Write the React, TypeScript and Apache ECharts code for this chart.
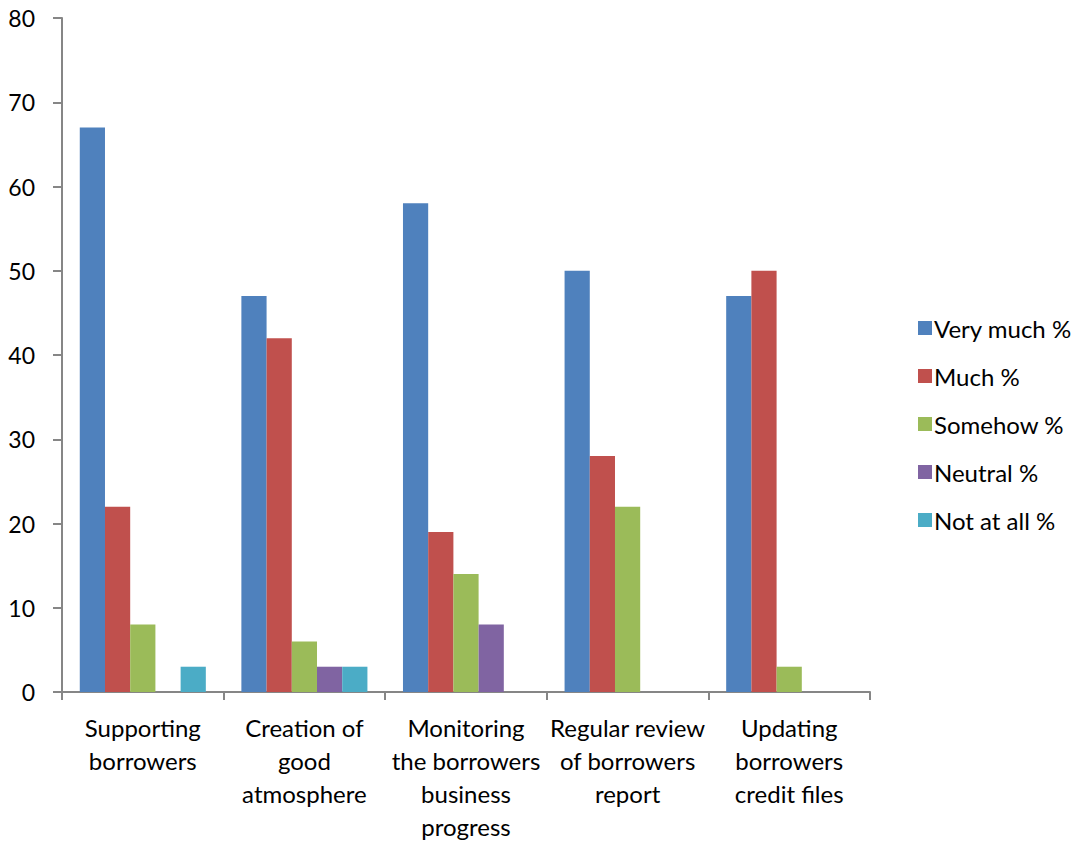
import React, { useEffect, useRef } from "react";
import * as echarts from "echarts";

const categories = [
  "Supporting\nborrowers",
  "Creation of\ngood\natmosphere",
  "Monitoring\nthe borrowers\nbusiness\nprogress",
  "Regular review\nof borrowers\nreport",
  "Updating\nborrowers\ncredit files",
];

const seriesNames = ["Very much %", "Much %", "Somehow %", "Neutral %", "Not at all %"];
const veryMuch = [67, 47, 58, 50, 47];
const much = [22, 42, 19, 28, 50];
const somehow = [8, 6, 14, 22, 3];
const neutral = [0, 3, 8, 0, 0];
const notAtAll = [3, 3, 0, 0, 0];
const colors = ["#4F81BD", "#C0504D", "#9BBB59", "#8064A2", "#4BACC6"];

const yTicks = { min: 0, max: 80, interval: 10 };

const FONT = "Lato, 'Open Sans', sans-serif";

export default function App() {
  const ref = useRef<HTMLDivElement>(null);

  useEffect(() => {
    if (!ref.current) return;
    const chart = echarts.init(ref.current, null, { renderer: "svg" });
    const values = [veryMuch, much, somehow, neutral, notAtAll];
    chart.setOption({
      animation: false,
      backgroundColor: "#ffffff",
      grid: { left: 62, right: 212, top: 18, bottom: 139 },
      legend: {
        orient: "vertical",
        left: 913,
        top: 309,
        itemWidth: 14,
        itemHeight: 14,
        itemGap: 20,
        icon: "rect",
        textStyle: {
          fontFamily: FONT,
          fontSize: 24,
          color: "#000",
          lineHeight: 28,
          padding: [0, 0, 0, -3],
        },
        data: seriesNames,
      },
      xAxis: {
        type: "category",
        data: categories,
        axisLine: { lineStyle: { color: "#868686", width: 2 } },
        axisTick: { show: true, length: 8, lineStyle: { color: "#868686", width: 2 } },
        axisLabel: {
          interval: 0,
          margin: 19,
          fontFamily: FONT,
          fontSize: 24,
          lineHeight: 33,
          color: "#000",
          align: "center",
        },
        splitLine: { show: false },
      },
      yAxis: {
        type: "value",
        min: yTicks.min,
        max: yTicks.max,
        interval: yTicks.interval,
        axisLine: { show: true, lineStyle: { color: "#868686", width: 2 } },
        axisTick: { show: true, length: 9, lineStyle: { color: "#868686", width: 2 } },
        axisLabel: {
          margin: 27,
          fontFamily: FONT,
          fontSize: 23,
          color: "#000",
        },
        splitLine: { show: false },
      },
      series: seriesNames.map((name, i) => ({
        name,
        type: "bar",
        data: values[i],
        barGap: "0%",
        barCategoryGap: "22%",
        itemStyle: { color: colors[i] },
      })),
    });
    return () => chart.dispose();
  }, []);

  return (
    <div
      ref={ref}
      style={{ position: "absolute", left: 0, top: 0, width: 1082, height: 843 }}
    />
  );
}
